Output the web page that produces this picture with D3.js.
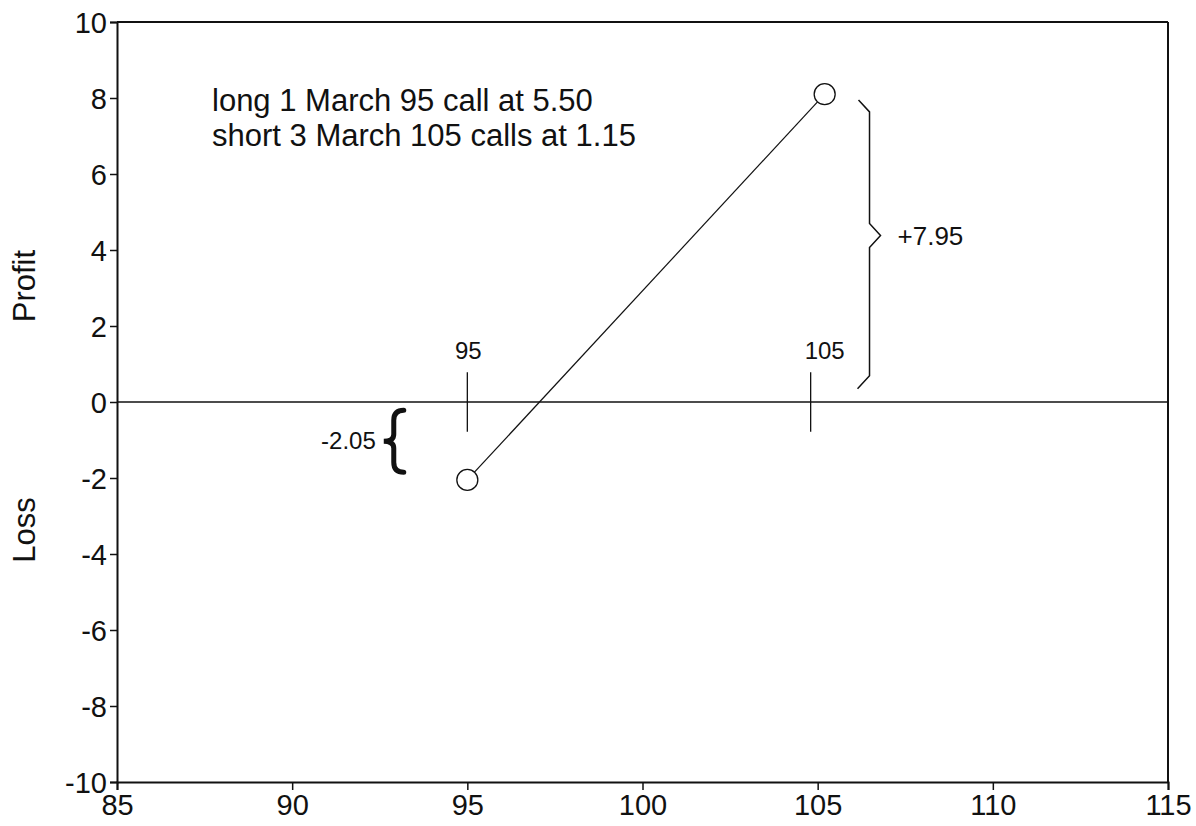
<!DOCTYPE html>
<html>
<head>
<meta charset="utf-8">
<script src="https://cdn.jsdelivr.net/npm/d3@7"></script>
<style>
  html, body { margin: 0; padding: 0; background: #fff; }
  svg { display: block; }
  text { font-family: "Liberation Sans", Arial, Helvetica, sans-serif; fill: #111; }
</style>
</head>
<body>
<svg id="chart" width="1196" height="826"></svg>
<script>
// ---- data ----
const xTicks = [85, 90, 95, 100, 105, 110, 115];
const yTicks = [-10, -8, -6, -4, -2, 0, 2, 4, 6, 8, 10];
const payoffPrices = [95, 105.2];
const payoffValues = [-2.05, 8.1];
const strikes = [95, 105];
const strikeLabels = ["95", "105"];
const annotationLines = ["long 1 March 95 call at 5.50", "short 3 March 105 calls at 1.15"];
const maxLossLabel = "-2.05";
const maxProfitLabel = "+7.95";
const axisTitles = ["Profit", "Loss"];

(function () {
// ---- layout ----
const svg = d3.select("#chart");
const mLeft = 117, mRight = 1168, mTop = 22, mBottom = 782;
const x = d3.scaleLinear().domain([85, 115]).range([mLeft, mRight]);
const y = d3.scaleLinear().domain([-10, 10]).range([mBottom, mTop]);
const ink = "#111";
const fmt = d => String(d);

// frame top & right
svg.append("line").attr("x1", mLeft).attr("x2", mRight).attr("y1", mTop).attr("y2", mTop)
  .attr("stroke", ink).attr("stroke-width", 2);
svg.append("line").attr("x1", mRight).attr("x2", mRight).attr("y1", mTop).attr("y2", mBottom)
  .attr("stroke", ink).attr("stroke-width", 2);

// y axis
const yAxis = svg.append("g").attr("transform", `translate(${mLeft},0)`)
  .call(d3.axisLeft(y).tickValues(yTicks).tickSize(7).tickPadding(3).tickFormat(fmt));
yAxis.select(".domain").attr("stroke", ink).attr("stroke-width", 2);
yAxis.selectAll(".tick line").attr("stroke", ink).attr("stroke-width", 1.5);
yAxis.selectAll(".tick text").style("font-size", "29px").attr("fill", ink)
  .style("font-family", '"Liberation Sans", Arial, sans-serif').attr("dy", "0.36em");

// x axis
const xAxis = svg.append("g").attr("transform", `translate(0,${mBottom})`)
  .call(d3.axisBottom(x).tickValues(xTicks).tickSize(8).tickPadding(4).tickFormat(fmt));
xAxis.select(".domain").attr("stroke", ink).attr("stroke-width", 2);
xAxis.selectAll(".tick line").attr("stroke", ink).attr("stroke-width", 1.5);
xAxis.selectAll(".tick text").style("font-size", "29px").attr("fill", ink)
  .style("font-family", '"Liberation Sans", Arial, sans-serif');

// zero line
svg.append("line").attr("x1", mLeft).attr("x2", mRight).attr("y1", y(0)).attr("y2", y(0))
  .attr("stroke", ink).attr("stroke-width", 1.5);

// axis titles
const titleY = [y(3.05), y(-3.37)];
axisTitles.forEach((t, i) => {
  svg.append("text").attr("transform", `translate(35,${titleY[i]}) rotate(-90)`)
    .attr("text-anchor", "middle").style("font-size", "31px").text(t);
});

// strike markers
strikes.forEach((s, i) => {
  const xo = i === 0 ? 0 : -0.2;
  svg.append("line").attr("x1", x(s + xo)).attr("x2", x(s + xo))
    .attr("y1", y(0.78)).attr("y2", y(-0.78)).attr("stroke", ink).attr("stroke-width", 1.3);
  svg.append("text").attr("x", x(s) + (i === 0 ? 1 : 7)).attr("y", y(1.13))
    .attr("text-anchor", "middle").style("font-size", "24px").text(strikeLabels[i]);
});

// payoff line (edge to edge of circles)
const r = 10.5;
const p = payoffPrices.map((d, i) => [x(d), y(payoffValues[i])]);
const dx = p[1][0] - p[0][0], dy = p[1][1] - p[0][1], len = Math.hypot(dx, dy);
const ux = dx / len, uy = dy / len;
svg.append("path")
  .attr("d", d3.line()([[p[0][0] + ux * r, p[0][1] + uy * r], [p[1][0] - ux * r, p[1][1] - uy * r]]))
  .attr("stroke", ink).attr("stroke-width", 1.2).attr("fill", "none");
svg.selectAll("circle.pt").data(payoffPrices).enter().append("circle")
  .attr("cx", d => x(d)).attr("cy", (d, i) => y(payoffValues[i])).attr("r", r)
  .attr("fill", "none").attr("stroke", ink).attr("stroke-width", 1.3);

// annotation text
annotationLines.forEach((t, i) => {
  svg.append("text").attr("x", 212).attr("y", 111 + i * 35)
    .style("font-size", "31px").text(t);
});

// left (loss) curly brace
{
  const bx = x(92.9), yt = y(-0.22), yb = y(-1.85), ym = (yt + yb) / 2, w = 10;
  const d = `M${bx + w},${yt} Q${bx},${yt} ${bx},${yt + w} L${bx},${ym - w * 0.7} Q${bx},${ym} ${bx - w},${ym} ` +
            `Q${bx},${ym} ${bx},${ym + w * 0.7} L${bx},${yb - w} Q${bx},${yb} ${bx + w},${yb}`;
  svg.append("path").attr("d", d).attr("fill", "none").attr("stroke", ink).attr("stroke-width", 5)
    .attr("stroke-linecap", "round");
  svg.append("text").attr("x", bx - 18).attr("y", ym + 8).attr("text-anchor", "end")
    .style("font-size", "24px").text(maxLossLabel);
}

// right (profit) brace
{
  const bx = x(106.48), yt = y(7.95), yb = y(0.35), ym = y(4.38), w = 11;
  const d = `M${bx - w},${yt} L${bx},${yt + 12} L${bx},${ym - 12} L${bx + w},${ym} L${bx},${ym + 12} L${bx},${yb - 13} L${bx - w - 1},${yb}`;
  svg.append("path").attr("d", d).attr("fill", "none").attr("stroke", ink).attr("stroke-width", 1.5);
  svg.append("text").attr("x", bx + 28).attr("y", ym + 9)
    .style("font-size", "26px").text(maxProfitLabel);
}
})();
</script>
</body>
</html>
